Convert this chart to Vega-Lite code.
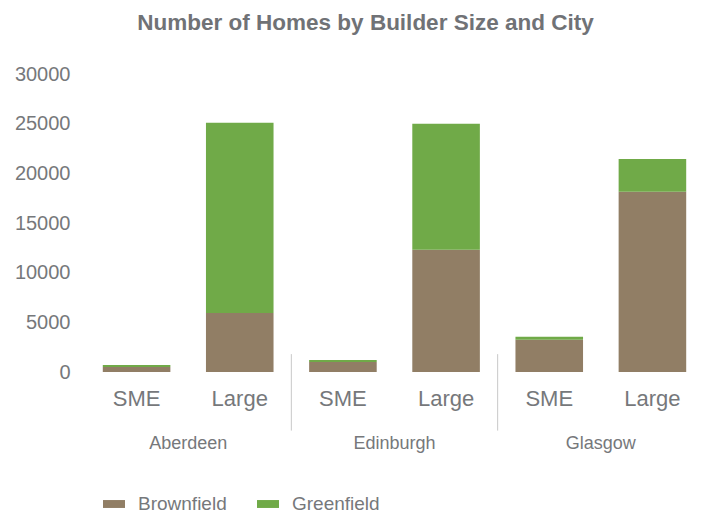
{
  "$schema": "https://vega.github.io/schema/vega-lite/v6.json",
  "autosize": {"type": "none"},
  "padding": {"left": 85, "top": 74, "right": 0, "bottom": 141},
  "width": 619,
  "height": 298,
  "background": "white",
  "config": {
    "font": "Liberation Sans",
    "view": {"stroke": null},
    "axis": {"labelColor": "#76787b", "grid": false, "domain": false, "ticks": false, "title": null}
  },
  "title": {
    "text": "Number of Homes by Builder Size and City",
    "fontSize": 22.5,
    "fontWeight": "bold",
    "color": "#707276",
    "offset": 30,
    "dx": -29
  },
  "datasets": {
    "homes": [
      {"city": "Aberdeen", "size": "SME", "key": "Aberdeen SME", "type": "Brownfield", "homes": 500},
      {"city": "Aberdeen", "size": "SME", "key": "Aberdeen SME", "type": "Greenfield", "homes": 200},
      {"city": "Aberdeen", "size": "Large", "key": "Aberdeen Large", "type": "Brownfield", "homes": 5950},
      {"city": "Aberdeen", "size": "Large", "key": "Aberdeen Large", "type": "Greenfield", "homes": 19150},
      {"city": "Edinburgh", "size": "SME", "key": "Edinburgh SME", "type": "Brownfield", "homes": 1000},
      {"city": "Edinburgh", "size": "SME", "key": "Edinburgh SME", "type": "Greenfield", "homes": 200},
      {"city": "Edinburgh", "size": "Large", "key": "Edinburgh Large", "type": "Brownfield", "homes": 12300},
      {"city": "Edinburgh", "size": "Large", "key": "Edinburgh Large", "type": "Greenfield", "homes": 12700},
      {"city": "Glasgow", "size": "SME", "key": "Glasgow SME", "type": "Brownfield", "homes": 3250},
      {"city": "Glasgow", "size": "SME", "key": "Glasgow SME", "type": "Greenfield", "homes": 300},
      {"city": "Glasgow", "size": "Large", "key": "Glasgow Large", "type": "Brownfield", "homes": 18150},
      {"city": "Glasgow", "size": "Large", "key": "Glasgow Large", "type": "Greenfield", "homes": 3300}
    ],
    "cities": [
      {"city": "Aberdeen", "key": "Aberdeen SME"},
      {"city": "Edinburgh", "key": "Edinburgh SME"},
      {"city": "Glasgow", "key": "Glasgow SME"}
    ],
    "separators": [
      {"key": "Edinburgh SME"},
      {"key": "Glasgow SME"}
    ]
  },
  "layer": [
    {
      "data": {"name": "homes"},
      "mark": {"type": "bar", "width": {"band": 0.655}},
      "encoding": {
        "x": {
          "field": "key",
          "type": "nominal",
          "scale": {
            "domain": ["Aberdeen SME", "Aberdeen Large", "Edinburgh SME", "Edinburgh Large", "Glasgow SME", "Glasgow Large"],
            "paddingInner": 0,
            "paddingOuter": 0
          },
          "axis": {
            "labelExpr": "split(datum.label, ' ')[1]",
            "labelAngle": 0,
            "labelFontSize": 22,
            "labelPadding": 16
          }
        },
        "y": {
          "field": "homes",
          "type": "quantitative",
          "aggregate": "sum",
          "stack": "zero",
          "scale": {"domain": [0, 30000]},
          "axis": {"values": [0, 5000, 10000, 15000, 20000, 25000, 30000], "format": "d", "labelFontSize": 20, "labelPadding": 15}
        },
        "color": {
          "field": "type",
          "type": "nominal",
          "scale": {"domain": ["Brownfield", "Greenfield"], "range": ["#917e65", "#70aa48"]},
          "legend": {
            "title": null,
            "orient": "none",
            "direction": "horizontal",
            "legendX": 18,
            "legendY": 419,
            "symbolType": "M-1,-0.36H1V0.36H-1Z",
            "symbolSize": 484,
            "symbolStrokeWidth": 0,
            "labelFontSize": 19,
            "labelColor": "#76787b",
            "labelOffset": 13,
            "columnPadding": 30
          }
        },
        "order": {"field": "type", "sort": "ascending"}
      }
    },
    {
      "data": {"name": "separators"},
      "mark": {"type": "rule", "color": "#c8c8c8", "strokeWidth": 1},
      "encoding": {
        "x": {"field": "key", "type": "nominal", "bandPosition": 0},
        "y": {"datum": 1800},
        "y2": {"datum": -5900}
      }
    },
    {
      "data": {"name": "cities"},
      "mark": {"type": "text", "fontSize": 18, "color": "#76787b", "baseline": "middle", "dy": 72},
      "encoding": {
        "x": {"field": "key", "type": "nominal", "bandPosition": 1},
        "y": {"datum": 0},
        "text": {"field": "city"}
      }
    }
  ]
}
